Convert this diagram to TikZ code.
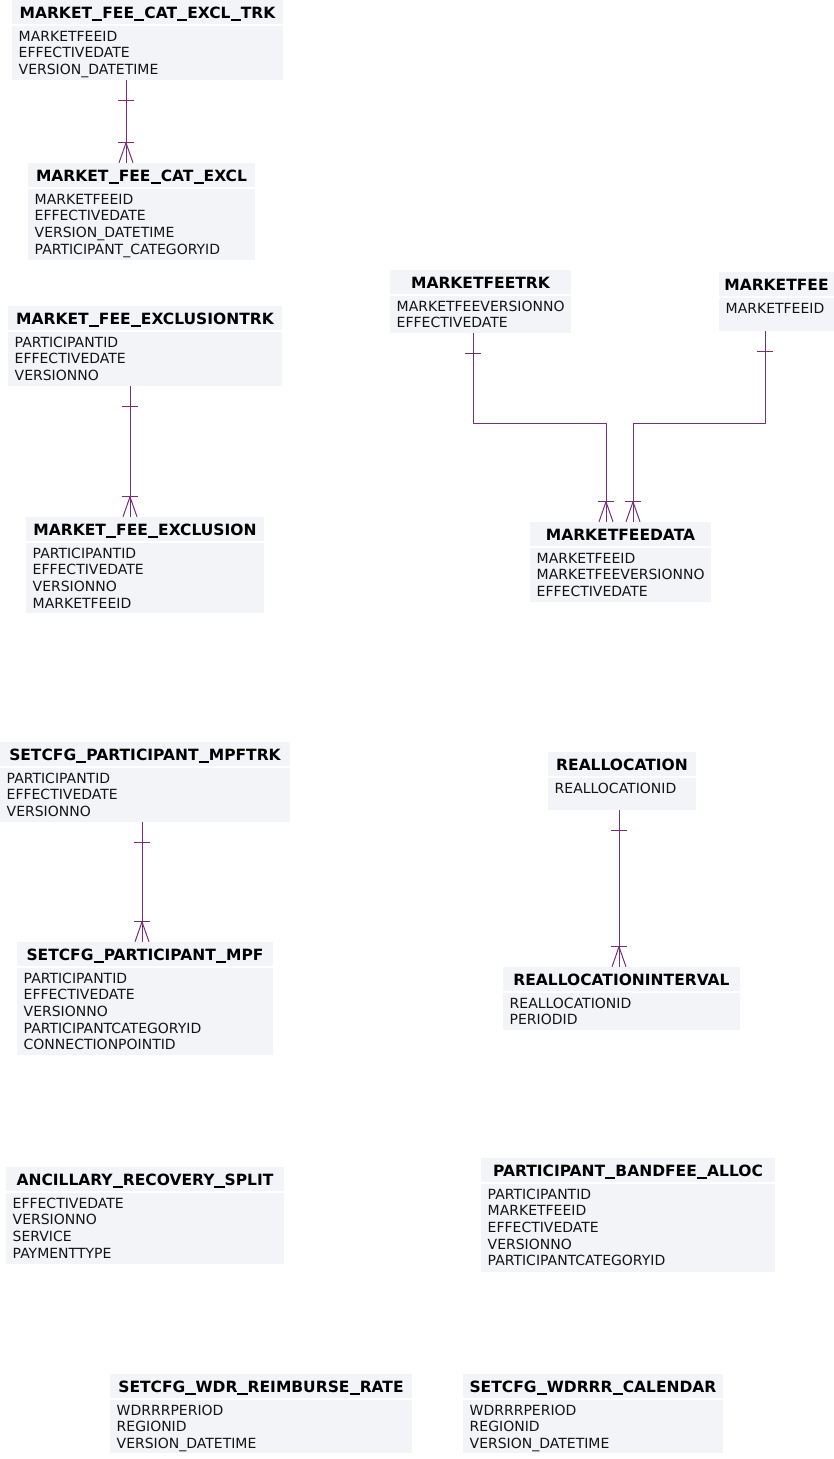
\documentclass[tikz,border=0pt]{standalone}
\usepackage{fontspec}
\setmainfont{DejaVu Sans}
\usetikzlibrary{fit}
\definecolor{boxfill}{RGB}{243,244,248}
\definecolor{relcol}{RGB}{118,45,122}
\definecolor{txt}{RGB}{20,20,20}
\newcommand\tus{\rule[-0.13em]{0.66em}{0.12em}}
\tikzset{
 hdr/.style={fill=boxfill, inner sep=0pt, draw=none},
 bdy/.style={fill=boxfill, inner sep=0pt, draw=none},
 ttl/.style={font=\fontsize{15.5}{18}\selectfont\bfseries, text=black, inner sep=0pt, anchor=base},
 fld/.style={font=\fontsize{14}{16.7}\selectfont, text=txt, inner sep=0pt, anchor=base west},
 rel/.style={draw=relcol, line width=1pt, line join=bevel},
}
\newcommand\ertbl[7]{%
 \node[hdr, fit={(#2,#3) (#4,#3+24)}] (#1h) {};
 \node[bdy, fit={(#2,#3+25.5) (#4,#5)}] (#1b) {};
 \node[ttl] (#1t) at ({(#2+#4)/2},#3+18.5) {#6};
 \foreach \f [count=\i] in {#7} {\node[fld] (#1f\i) at (#2+6.5,{#3+41+(\i-1)*16.7}) {\f};}
}
\newcommand\onebar[1]{\draw[rel] ([shift={(-8,20)}]#1) -- ([shift={(8,20)}]#1);}
\newcommand\crow[1]{%
 \draw[rel] ([shift={(-8,-20)}]#1) -- ([shift={(8,-20)}]#1);
 \draw[rel] ([shift={(-7,0)}]#1) -- ([shift={(0,-20)}]#1) -- ([shift={(7,0)}]#1);
 \draw[rel] ([shift={(0,-20)}]#1) -- (#1);
}
\begin{document}
\begin{tikzpicture}[x=1pt,y=-1pt]
\useasboundingbox (0,0) rectangle (834,1459);

\ertbl{mfcet}{12}{0}{283}{80}{MARKET\tus FEE\tus CAT\tus EXCL\tus TRK}{MARKETFEEID,EFFECTIVEDATE,VERSION\_DATETIME}
\ertbl{mfce}{28}{163}{255}{260}{MARKET\tus FEE\tus CAT\tus EXCL}{MARKETFEEID,EFFECTIVEDATE,VERSION\_DATETIME,PARTICIPANT\_CATEGORYID}
\ertbl{mfet}{8}{306}{282}{386}{MARKET\tus FEE\tus EXCLUSIONTRK}{PARTICIPANTID,EFFECTIVEDATE,VERSIONNO}
\ertbl{mfe}{26}{517}{264}{613}{MARKET\tus FEE\tus EXCLUSION}{PARTICIPANTID,EFFECTIVEDATE,VERSIONNO,MARKETFEEID}
\ertbl{mft}{390}{270}{571}{333}{MARKETFEETRK}{MARKETFEEVERSIONNO,EFFECTIVEDATE}
\ertbl{mf}{719}{272}{834}{331}{MARKETFEE}{MARKETFEEID}
\ertbl{mfd}{530}{522}{711}{602}{MARKETFEEDATA}{MARKETFEEID,MARKETFEEVERSIONNO,EFFECTIVEDATE}
\ertbl{mpft}{0}{742}{290}{822}{SETCFG\tus PARTICIPANT\tus MPFTRK}{PARTICIPANTID,EFFECTIVEDATE,VERSIONNO}
\ertbl{mpf}{17}{942}{273}{1055}{SETCFG\tus PARTICIPANT\tus MPF}{PARTICIPANTID,EFFECTIVEDATE,VERSIONNO,PARTICIPANTCATEGORYID,CONNECTIONPOINTID}
\ertbl{ra}{548}{752}{696}{810}{REALLOCATION}{REALLOCATIONID}
\ertbl{rai}{503}{967}{740}{1030}{REALLOCATIONINTERVAL}{REALLOCATIONID,PERIODID}
\ertbl{ars}{6}{1167}{284}{1264}{ANCILLARY\tus RECOVERY\tus SPLIT}{EFFECTIVEDATE,VERSIONNO,SERVICE,PAYMENTTYPE}
\ertbl{pba}{481}{1158}{775}{1272}{PARTICIPANT\tus BANDFEE\tus ALLOC}{PARTICIPANTID,MARKETFEEID,EFFECTIVEDATE,VERSIONNO,PARTICIPANTCATEGORYID}
\ertbl{wrr}{110}{1374}{412}{1453}{SETCFG\tus WDR\tus REIMBURSE\tus RATE}{WDRRRPERIOD,REGIONID,VERSION\_DATETIME}
\ertbl{wcal}{463}{1374}{723}{1453}{SETCFG\tus WDRRR\tus CALENDAR}{WDRRRPERIOD,REGIONID,VERSION\_DATETIME}

% connector x positions
\coordinate (x1) at (126,0);
\coordinate (x2) at (130,0);
\coordinate (x3a) at (473,0);
\coordinate (x3b) at (606,0);
\coordinate (x4a) at (765,0);
\coordinate (x4b) at (633,0);
\coordinate (x5) at (142,0);
\coordinate (x6) at (619,0);
\coordinate (yb) at (0,423);

\coordinate (a1) at (mfcetb.south -| x1);
\coordinate (b1) at (mfceh.north -| x1);
\draw[rel] (a1) -- (b1);
\onebar{a1}\crow{b1}

\coordinate (a2) at (mfetb.south -| x2);
\coordinate (b2) at (mfeh.north -| x2);
\draw[rel] (a2) -- (b2);
\onebar{a2}\crow{b2}

\coordinate (a3) at (mftb.south -| x3a);
\coordinate (b3) at (mfdh.north -| x3b);
\draw[rel] (a3) -- (a3 |- yb) -- (b3 |- yb) -- (b3);
\onebar{a3}\crow{b3}

\coordinate (a4) at (mfb.south -| x4a);
\coordinate (b4) at (mfdh.north -| x4b);
\draw[rel] (a4) -- (a4 |- yb) -- (b4 |- yb) -- (b4);
\onebar{a4}\crow{b4}

\coordinate (a5) at (mpftb.south -| x5);
\coordinate (b5) at (mpfh.north -| x5);
\draw[rel] (a5) -- (b5);
\onebar{a5}\crow{b5}

\coordinate (a6) at (rab.south -| x6);
\coordinate (b6) at (raih.north -| x6);
\draw[rel] (a6) -- (b6);
\onebar{a6}\crow{b6}
\end{tikzpicture}
\end{document}
